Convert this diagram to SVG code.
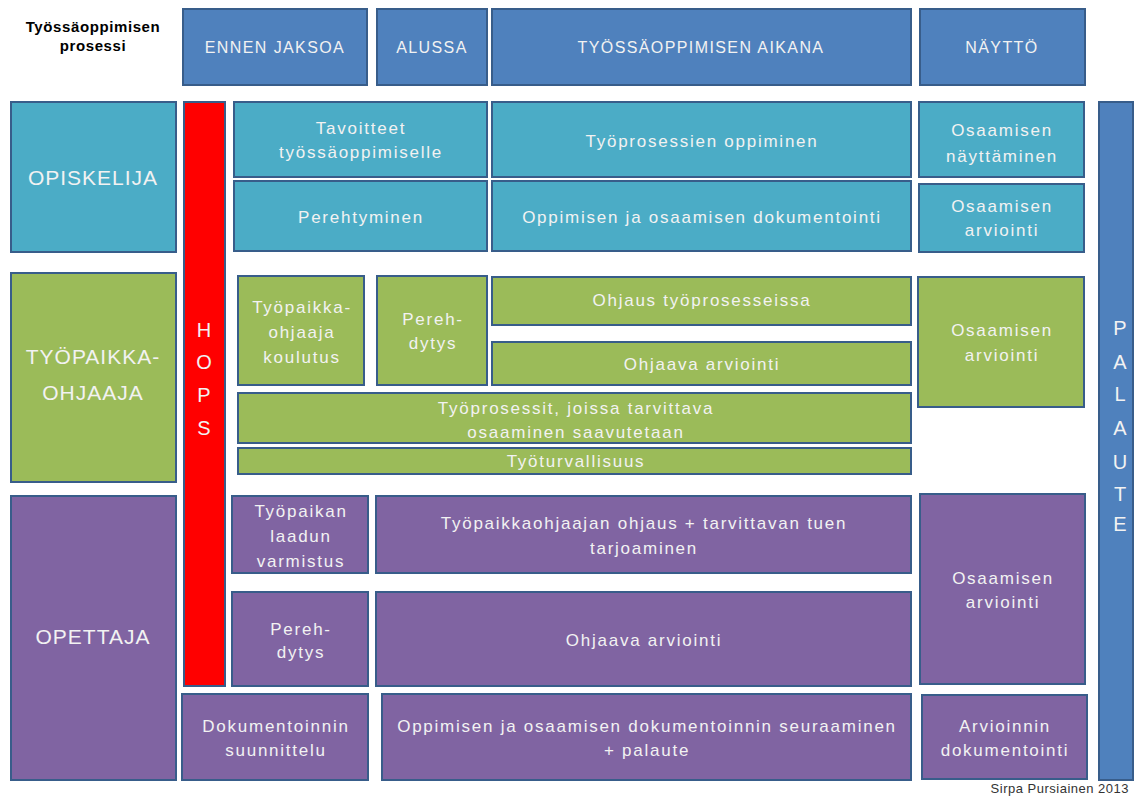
<svg xmlns="http://www.w3.org/2000/svg" width="1134" height="799" viewBox="0 0 1134 799">
<style>
rect{stroke:#385D8A;stroke-width:2}
rect.bg{stroke:none;fill:#fff}
.hd{fill:#4F81BD}
.cy{fill:#4BACC6}
.gr{fill:#9BBB59}
.pu{fill:#8064A2}
.rd{fill:#FF0000}
text{font-family:"Liberation Sans","Open Sans",sans-serif;fill:#F2F2F2;text-anchor:middle;font-size:17px;letter-spacing:1.75px}
.big{font-size:21px;letter-spacing:1px}
.hdt{font-size:16px;letter-spacing:1.4px}
.ttl{fill:#000;font-weight:bold;font-size:15px;letter-spacing:0.6px}
.cr{fill:#333;font-size:13px;letter-spacing:0.5px;text-anchor:end}
.vl{font-size:20px;letter-spacing:0}
</style>
<rect class="bg" width="1134" height="799"/>
<g id="title"><text class="ttl" x="93" y="32">Työssäoppimisen</text><text class="ttl" x="93" y="51">prosessi</text></g>
<g id="h-ennen"><rect class="hd" x="183" y="9" width="184" height="76"/><text class="hdt" x="275" y="53">ENNEN JAKSOA</text></g>
<g id="h-alussa"><rect class="hd" x="377" y="9" width="110" height="76"/><text class="hdt" x="432" y="53">ALUSSA</text></g>
<g id="h-aikana"><rect class="hd" x="492" y="9" width="419" height="76"/><text class="hdt" x="701" y="53">TYÖSSÄOPPIMISEN AIKANA</text></g>
<g id="h-naytto"><rect class="hd" x="920" y="9" width="165" height="76"/><text class="hdt" x="1002" y="53">NÄYTTÖ</text></g>

<g id="opiskelija"><rect class="cy" x="11" y="102" width="165" height="150"/><text class="big" x="93" y="185">OPISKELIJA</text></g>
<g id="tyopaikkaohjaaja"><rect class="gr" x="11" y="273" width="165" height="209"/><text class="big" x="93" y="364">TYÖPAIKKA-</text><text class="big" x="93" y="400">OHJAAJA</text></g>
<g id="opettaja"><rect class="pu" x="11" y="496" width="165" height="284"/><text class="big" x="93" y="644">OPETTAJA</text></g>

<g id="hops"><rect class="rd" x="184" y="102" width="41" height="584"/>
<text class="vl" x="204" y="337">H</text><text class="vl" x="204" y="369">O</text><text class="vl" x="204" y="402">P</text><text class="vl" x="204" y="435">S</text></g>
<g id="palaute"><rect class="hd" x="1099" y="102" width="34" height="678"/>
<text class="vl" x="1120" y="335">P</text><text class="vl" x="1120" y="369">A</text><text class="vl" x="1120" y="401">L</text><text class="vl" x="1120" y="435">A</text><text class="vl" x="1120" y="469">U</text><text class="vl" x="1120" y="501">T</text><text class="vl" x="1120" y="531">E</text></g>

<g id="tavoitteet"><rect class="cy" x="234" y="102" width="253" height="75"/><text x="361" y="134">Tavoitteet</text><text x="361" y="158">työssäoppimiselle</text></g>
<g id="tyoprosessien-oppiminen"><rect class="cy" x="492" y="102" width="419" height="75"/><text x="702" y="147">Työprosessien oppiminen</text></g>
<g id="osaamisen-nayttaminen"><rect class="cy" x="919" y="102" width="165" height="75"/><text x="1002" y="136">Osaamisen</text><text x="1002" y="162">näyttäminen</text></g>
<g id="perehtyminen"><rect class="cy" x="234" y="181" width="253" height="70"/><text x="361" y="223">Perehtyminen</text></g>
<g id="dokumentointi-op"><rect class="cy" x="492" y="181" width="419" height="70"/><text x="702" y="223">Oppimisen ja osaamisen dokumentointi</text></g>
<g id="osaamisen-arviointi-op"><rect class="cy" x="919" y="184" width="165" height="68"/><text x="1002" y="212">Osaamisen</text><text x="1002" y="236">arviointi</text></g>

<g id="tpo-koulutus"><rect class="gr" x="238" y="276" width="126" height="109"/><text x="302" y="313">Työpaikka-</text><text x="302" y="338">ohjaaja</text><text x="302" y="363">koulutus</text></g>
<g id="perehdytys-g"><rect class="gr" x="377" y="276" width="110" height="109"/><text x="433" y="325">Pereh-</text><text x="433" y="349">dytys</text></g>
<g id="ohjaus-tyoprosesseissa"><rect class="gr" x="492" y="277" width="419" height="48"/><text x="702" y="306">Ohjaus työprosesseissa</text></g>
<g id="ohjaava-arviointi-g"><rect class="gr" x="492" y="342" width="419" height="43"/><text x="702" y="370">Ohjaava arviointi</text></g>
<g id="tyoprosessit"><rect class="gr" x="238" y="393" width="673" height="50"/><text x="576" y="414">Työprosessit, joissa tarvittava</text><text x="576" y="438">osaaminen saavutetaan</text></g>
<g id="tyoturvallisuus"><rect class="gr" x="238" y="448" width="673" height="26"/><text x="576" y="467">Työturvallisuus</text></g>
<g id="osaamisen-arviointi-g"><rect class="gr" x="918" y="277" width="166" height="130"/><text x="1002" y="336">Osaamisen</text><text x="1002" y="361">arviointi</text></g>

<g id="laadun-varmistus"><rect class="pu" x="232" y="496" width="136" height="77"/><text x="301" y="517">Työpaikan</text><text x="301" y="542">laadun</text><text x="301" y="567">varmistus</text></g>
<g id="tpo-ohjaus"><rect class="pu" x="376" y="496" width="535" height="77"/><text x="644" y="529">Työpaikkaohjaajan ohjaus + tarvittavan tuen</text><text x="644" y="554">tarjoaminen</text></g>
<g id="perehdytys-p"><rect class="pu" x="232" y="592" width="136" height="94"/><text x="301" y="635">Pereh-</text><text x="301" y="658">dytys</text></g>
<g id="ohjaava-arviointi-p"><rect class="pu" x="376" y="592" width="535" height="94"/><text x="644" y="646">Ohjaava arviointi</text></g>
<g id="osaamisen-arviointi-p"><rect class="pu" x="920" y="494" width="165" height="190"/><text x="1003" y="584">Osaamisen</text><text x="1003" y="608">arviointi</text></g>
<g id="dok-suunnittelu"><rect class="pu" x="182" y="694" width="186" height="86"/><text x="276" y="732">Dokumentoinnin</text><text x="276" y="756">suunnittelu</text></g>
<g id="dok-seuraaminen"><rect class="pu" x="382" y="694" width="529" height="86"/><text x="647" y="732">Oppimisen ja osaamisen dokumentoinnin seuraaminen</text><text x="647" y="756">+ palaute</text></g>
<g id="arvioinnin-dok"><rect class="pu" x="922" y="695" width="165" height="84"/><text x="1005" y="732">Arvioinnin</text><text x="1005" y="756">dokumentointi</text></g>

<g id="credit"><text class="cr" x="1129" y="793">Sirpa Pursiainen 2013</text></g>
<g id="connectors"></g>
</svg>
